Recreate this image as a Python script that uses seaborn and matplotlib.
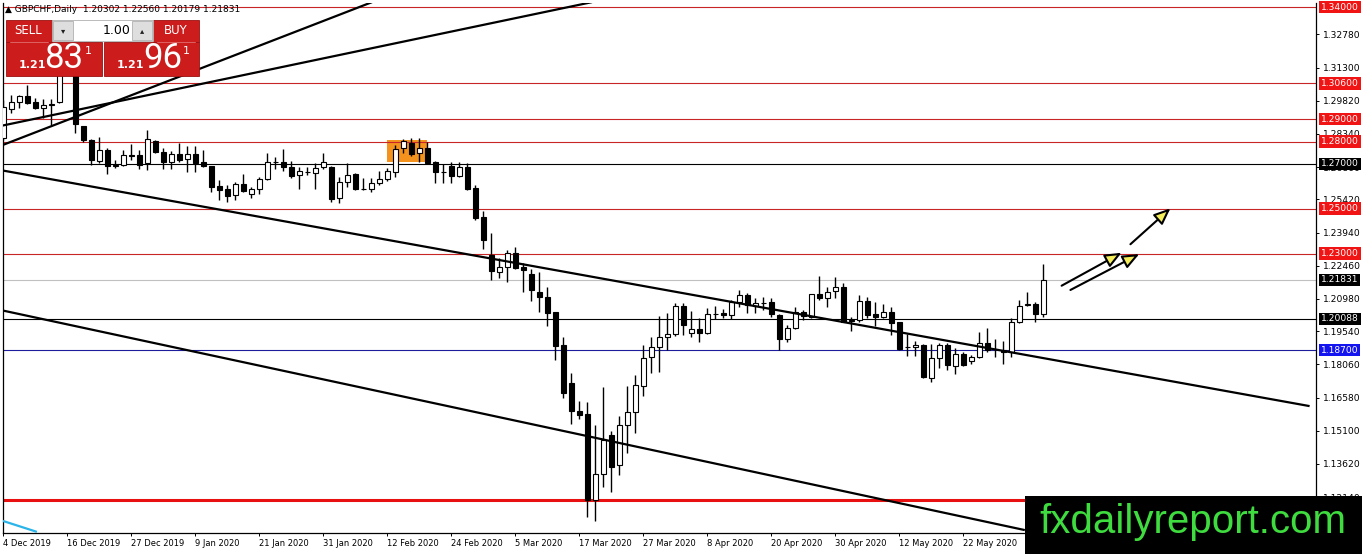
import matplotlib
matplotlib.use("Agg")
import matplotlib.pyplot as plt
import matplotlib.transforms as mtransforms
from matplotlib.patches import Rectangle
import seaborn as sns

# GBPCHF daily candles, one entry per bar (4 Dec 2019 .. 5 Jun 2020)
opens = [1.2816, 1.2945, 1.2976, 1.3003, 1.2976, 1.2950, 1.2965, 1.2976, 1.3120, 1.3109,
         1.2870, 1.2808, 1.2715, 1.2764, 1.2693, 1.2697, 1.2740, 1.2742, 1.2705, 1.2802,
         1.2753, 1.2709, 1.2744, 1.2722, 1.2744, 1.2709, 1.2691, 1.2600, 1.2587, 1.2560,
         1.2610, 1.2565, 1.2587, 1.2632, 1.2707, 1.2709, 1.2686, 1.2650, 1.2666, 1.2659,
         1.2686, 1.2686, 1.2547, 1.2619, 1.2655, 1.2587, 1.2587, 1.2614, 1.2632, 1.2664,
         1.2771, 1.2793, 1.2749, 1.2771, 1.2709, 1.2666, 1.2691, 1.2646, 1.2686, 1.2592,
         1.2462, 1.2294, 1.2218, 1.2240, 1.2302, 1.2240, 1.2209, 1.2129, 1.2107, 1.2040,
         1.1892, 1.1723, 1.1598, 1.1585, 1.1201, 1.1317, 1.1491, 1.1357, 1.1535, 1.1594,
         1.1709, 1.1839, 1.1883, 1.1928, 1.1941, 1.2067, 1.1946, 1.1964, 1.1946, 1.2031,
         1.2035, 1.2027, 1.2084, 1.2115, 1.2067, 1.2080, 1.2084, 1.2027, 1.1919, 1.1968,
         1.2040, 1.2018, 1.2120, 1.2102, 1.2133, 1.2151, 1.2004, 1.2004, 1.2089, 1.2031,
         1.2018, 1.2040, 1.1995, 1.1883, 1.1883, 1.1892, 1.1745, 1.1834, 1.1892, 1.1799,
         1.1852, 1.1821, 1.1839, 1.1901, 1.1874, 1.1870, 1.1861, 1.1995, 1.2071, 1.2075,
         1.20302]
highs = [1.2985, 1.3008, 1.3008, 1.3052, 1.2994, 1.2990, 1.2990, 1.3186, 1.3190, 1.3125,
         1.2870, 1.2813, 1.2822, 1.2773, 1.2719, 1.2762, 1.2789, 1.2764, 1.2851, 1.2806,
         1.2773, 1.2758, 1.2793, 1.2780, 1.2780, 1.2762, 1.2691, 1.2627, 1.2605, 1.2618,
         1.2654, 1.2596, 1.2641, 1.2749, 1.2731, 1.2767, 1.2713, 1.2686, 1.2686, 1.2704,
         1.2749, 1.2690, 1.2641, 1.2704, 1.2659, 1.2637, 1.2637, 1.2668, 1.2682, 1.2784,
         1.2811, 1.2816, 1.2816, 1.2798, 1.2713, 1.2700, 1.2709, 1.2709, 1.2704, 1.2605,
         1.2490, 1.2392, 1.2280, 1.2316, 1.2329, 1.2258, 1.2231, 1.2218, 1.2151, 1.2040,
         1.1928, 1.1767, 1.1643, 1.1638, 1.1535, 1.1705, 1.1509, 1.1576, 1.1709, 1.1758,
         1.1892, 1.1928, 1.2022, 1.2035, 1.2080, 1.2080, 1.2044, 1.2013, 1.2058, 1.2067,
         1.2053, 1.2093, 1.2138, 1.2124, 1.2102, 1.2107, 1.2102, 1.2031, 1.1982, 1.2062,
         1.2049, 1.2120, 1.2200, 1.2151, 1.2196, 1.2169, 1.2018, 1.2115, 1.2107, 1.2084,
         1.2075, 1.2062, 1.1995, 1.1941, 1.1910, 1.1897, 1.1897, 1.1901, 1.1901, 1.1879,
         1.1861, 1.1848, 1.1950, 1.1968, 1.1919, 1.1910, 1.2013, 1.2093, 1.2129, 1.2084,
         1.22560]
lows = [1.2807, 1.2927, 1.2950, 1.2967, 1.2945, 1.2905, 1.2874, 1.2972, 1.3101, 1.2838,
        1.2799, 1.2697, 1.2706, 1.2657, 1.2684, 1.2693, 1.2717, 1.2679, 1.2675, 1.2749,
        1.2677, 1.2677, 1.2709, 1.2664, 1.2664, 1.2686, 1.2574, 1.2538, 1.2529, 1.2538,
        1.2574, 1.2547, 1.2565, 1.2627, 1.2679, 1.2669, 1.2637, 1.2587, 1.2650, 1.2587,
        1.2677, 1.2529, 1.2525, 1.2596, 1.2583, 1.2583, 1.2574, 1.2605, 1.2623, 1.2641,
        1.2749, 1.2735, 1.2709, 1.2704, 1.2614, 1.2614, 1.2614, 1.2641, 1.2583, 1.2449,
        1.2321, 1.2182, 1.2191, 1.2173, 1.2231, 1.2129, 1.2089, 1.2040, 1.1977, 1.1825,
        1.1656, 1.1540, 1.1562, 1.1125, 1.1107, 1.1259, 1.1237, 1.1312, 1.1410, 1.1499,
        1.1665, 1.1767, 1.1772, 1.1870, 1.1932, 1.1937, 1.1928, 1.1906, 1.1941, 1.2009,
        1.2013, 1.2009, 1.2062, 1.2035, 1.2035, 1.2049, 1.2018, 1.1870, 1.1906, 1.1964,
        1.2004, 1.2013, 1.2093, 1.2062, 1.2102, 1.1995, 1.1955, 1.1995, 1.2013, 1.1977,
        1.2013, 1.1937, 1.1870, 1.1843, 1.1843, 1.1745, 1.1727, 1.1790, 1.1781, 1.1763,
        1.1799, 1.1808, 1.1834, 1.1861, 1.1839, 1.1808, 1.1839, 1.1991, 1.2067, 1.1995,
        1.20179]
closes = [1.2954, 1.2976, 1.3003, 1.2972, 1.2950, 1.2963, 1.2967, 1.3101, 1.3115, 1.2878,
          1.2808, 1.2719, 1.2764, 1.2693, 1.2697, 1.2742, 1.2735, 1.2697, 1.2811, 1.2753,
          1.2709, 1.2744, 1.2717, 1.2744, 1.2704, 1.2691, 1.2596, 1.2583, 1.2556, 1.2610,
          1.2578, 1.2587, 1.2632, 1.2709, 1.2709, 1.2686, 1.2646, 1.2668, 1.2664, 1.2682,
          1.2709, 1.2543, 1.2619, 1.2650, 1.2587, 1.2589, 1.2614, 1.2632, 1.2668, 1.2766,
          1.2802, 1.2744, 1.2771, 1.2704, 1.2664, 1.2664, 1.2646, 1.2686, 1.2587, 1.2458,
          1.2361, 1.2223, 1.2240, 1.2302, 1.2236, 1.2227, 1.2138, 1.2107, 1.2035, 1.1888,
          1.1678, 1.1598, 1.1580, 1.1201, 1.1317, 1.1469, 1.1348, 1.1535, 1.1594, 1.1714,
          1.1834, 1.1883, 1.1928, 1.1941, 1.2067, 1.1982, 1.1964, 1.1946, 1.2031, 1.2033,
          1.2027, 1.2084, 1.2115, 1.2071, 1.2080, 1.2080, 1.2031, 1.1919, 1.1968, 1.2040,
          1.2022, 1.2120, 1.2102, 1.2129, 1.2151, 1.1995, 1.2000, 1.2089, 1.2027, 1.2018,
          1.2040, 1.1991, 1.1875, 1.1883, 1.1892, 1.1749, 1.1834, 1.1892, 1.1803, 1.1852,
          1.1803, 1.1839, 1.1901, 1.1870, 1.1874, 1.1861, 1.1995, 1.2067, 1.2075, 1.2030,
          1.21831]

date_labels = ["4 Dec 2019", "16 Dec 2019", "27 Dec 2019", "9 Jan 2020", "21 Jan 2020",
               "31 Jan 2020", "12 Feb 2020", "24 Feb 2020", "5 Mar 2020", "17 Mar 2020",
               "27 Mar 2020", "8 Apr 2020", "20 Apr 2020", "30 Apr 2020", "12 May 2020",
               "22 May 2020", "3 Jun 2020"]
date_label_bars = list(range(0, 129, 8))

price_ticks = [1.3278, 1.3130, 1.2982, 1.2834, 1.2686, 1.2542, 1.2394, 1.2246, 1.2098,
               1.1954, 1.1806, 1.1658, 1.1510, 1.1362, 1.1214]

# horizontal levels drawn on the chart
level_prices = [1.3400, 1.3060, 1.2900, 1.2800, 1.2700, 1.2500, 1.2300, 1.21831, 1.20088, 1.1870, 1.1200]
level_colors = ["#c82626", "#c82626", "#c82626", "#c82626", "#000000", "#c82626", "#c82626",
                "#c0c0c0", "#000000", "#1c1c9c", "#e81010"]
level_widths = [0.8, 0.8, 0.8, 0.8, 0.8, 0.8, 0.8, 0.8, 0.8, 0.8, 2.2]

# coloured price tags on the right scale
tag_prices = [1.3400, 1.3060, 1.2900, 1.2800, 1.2700, 1.2500, 1.2300, 1.21831, 1.20088, 1.1870]
tag_colors = ["#f01414", "#f01414", "#f01414", "#f01414", "#000000", "#f01414", "#f01414",
              "#000000", "#000000", "#1414f0"]

# hand drawn trend lines (bar index, price)
trend_x = [(-0.41, 46.1), (-0.41, 73.6), (-0.41, 163.3), (-0.41, 127.7), (-0.41, 4.2)]
trend_y = [(1.2780, 1.3422), (1.2869, 1.3422), (1.2673, 1.1620), (1.2049, 1.1067), (1.1112, 1.1059)]
trend_colors = ["black", "black", "black", "black", "#2ab4e8"]

# yellow arrows (bar index, price)
arrow_start = [(132.3, 1.2157), (133.4, 1.2138), (140.9, 1.2342)]
arrow_end = [(139.8, 1.2304), (142.0, 1.2298), (145.9, 1.2502)]

# orange consolidation box
box_bars = (48, 53)
box_prices = (1.2709, 1.2807)

symbol_header = "\u25b2 GBPCHF,Daily  1.20302 1.22560 1.20179 1.21831"

sns.set_theme(style="white")
plt.rcParams['font.family'] = ['DejaVu Sans']
plt.rcParams['text.color'] = 'black'
plt.rcParams['axes.edgecolor'] = 'black'
plt.rcParams['xtick.color'] = 'black'
plt.rcParams['ytick.color'] = 'black'

W, H = 1362, 554
fig = plt.figure(figsize=(W / 100, H / 100), dpi=100)
fig.patch.set_facecolor('white')

ax_l, ax_r, ax_t, ax_b = 3, 1316, 3, 533
ax = fig.add_axes([ax_l / W, 1 - ax_b / H, (ax_r - ax_l) / W, (ax_b - ax_t) / H])
ax.set_xlim(-0.04, 164.1)
ax.set_ylim(1.1054, 1.3418)

# levels
for p, c, lw in zip(level_prices, level_colors, level_widths):
    ax.axhline(p, color=c, lw=lw, zorder=1)

ax.add_patch(Rectangle((box_bars[0], box_prices[0]), box_bars[1] - box_bars[0],
                       box_prices[1] - box_prices[0], fc="#f5921e", ec='none', zorder=0.5))

# candles
xs = list(range(len(opens)))
ax.vlines(xs, lows, highs, color='black', lw=1.0, zorder=2)
bottoms = [min(o, c) for o, c in zip(opens, closes)]
heights = [max(abs(c - o), 0.00004) for o, c in zip(opens, closes)]
faces = ['white' if c >= o else 'black' for o, c in zip(opens, closes)]
ax.bar(xs, heights, bottom=bottoms, width=0.62, color=faces, edgecolor='black',
       linewidth=0.8, zorder=3)

for (x0, x1), (y0, y1), c in zip(trend_x, trend_y, trend_colors):
    ax.plot([x0, x1], [y0, y1], color=c, lw=1.6, zorder=4, solid_capstyle='butt')

for s, e in zip(arrow_start, arrow_end):
    ax.annotate('', xy=e, xytext=s, zorder=5,
                arrowprops=dict(arrowstyle='-|>,head_length=1.0,head_width=0.42',
                                mutation_scale=10, fc='#f4ee5a', ec='black', lw=1.5,
                                shrinkA=0, shrinkB=0))

# axes styling
for side in ['top']:
    ax.spines[side].set_visible(False)
for side in ['left', 'bottom', 'right']:
    ax.spines[side].set_linewidth(0.9)
ax.yaxis.tick_right()
ax.set_yticks(price_ticks)
ax.set_yticklabels([f"{p:.5f}" for p in price_ticks], fontsize=6.6)
ax.tick_params(axis='y', length=2.5, width=0.7, pad=2.5, right=True, left=False)
ax.set_xticks(date_label_bars)
ax.set_xticklabels(date_labels, fontsize=6.0, ha='left')
ax.tick_params(axis='x', length=2.5, width=0.7, pad=1.5, bottom=True)
ax.grid(False)

# price tags
tag_tr = mtransforms.blended_transform_factory(ax.transAxes, ax.transData)
for p, c in zip(tag_prices, tag_colors):
    ax.text(1.0 + 5 / (ax_r - ax_l), p, f"{p:.5f}", transform=tag_tr, fontsize=6.6,
            color='white', ha='left', va='center', clip_on=False, zorder=6,
            bbox=dict(boxstyle='square,pad=0.2', fc=c, ec='none'))

# overlay in pixel coordinates: trade panel, header and watermark
ov = fig.add_axes([0, 0, 1, 1])
ov.set_xlim(0, W)
ov.set_ylim(H, 0)
ov.axis('off')
ov.patch.set_alpha(0)
ov.set_zorder(10)

ov.text(5, 10, symbol_header, fontsize=6.5, va='center', ha='left')

red = "#cc1c1c"
for (x0, y0, x1, y1) in [(6, 20, 52, 42), (153, 20, 199, 42), (6, 42, 102, 76), (104, 42, 199, 76)]:
    ov.add_patch(Rectangle((x0, y0), x1 - x0, y1 - y0, fc=red, ec='#9c1010', lw=0.6))
ov.plot([10, 48], [41.5, 41.5], color='#e87070', lw=0.6)
ov.plot([157, 195], [41.5, 41.5], color='#e87070', lw=0.6)
ov.add_patch(Rectangle((52, 20), 101, 21, fc='white', ec='#b0b0b0', lw=0.6))
ov.add_patch(Rectangle((53, 21), 20, 19, fc='#dedede', ec='#b0b0b0', lw=0.6))
ov.add_patch(Rectangle((132, 21), 20, 19, fc='#dedede', ec='#b0b0b0', lw=0.6))
ov.text(63, 30.5, "\u25be", fontsize=6, ha='center', va='center', color='#202020')
ov.text(142, 30.5, "\u25b4", fontsize=6, ha='center', va='center', color='#202020')
ov.text(117, 30.5, "1.00", fontsize=9, ha='center', va='center', color='black')
ov.text(28, 31, "SELL", fontsize=8.5, ha='center', va='center', color='white')
ov.text(176, 31, "BUY", fontsize=8.5, ha='center', va='center', color='white')
for cx, big in [(0, "83"), (98.5, "96")]:
    ov.text(32 + cx, 65.5, "1.21", fontsize=8, fontweight='bold', ha='center', va='center', color='white')
    ov.text(64 + cx, 58.5, big, fontsize=25, ha='center', va='center', color='white',
            family='Roboto')
    ov.text(88 + cx, 50.5, "1", fontsize=8, ha='center', va='center', color='white')

ov.add_patch(Rectangle((1025, 496), W - 1025, H - 496, fc='black', ec='none'))
ov.text(1193, 522, "fxdailyreport.com", fontsize=29, ha='center', va='center',
        color='#3fdc3f', family='Liberation Sans')

fig.savefig("out.png", dpi=100)
